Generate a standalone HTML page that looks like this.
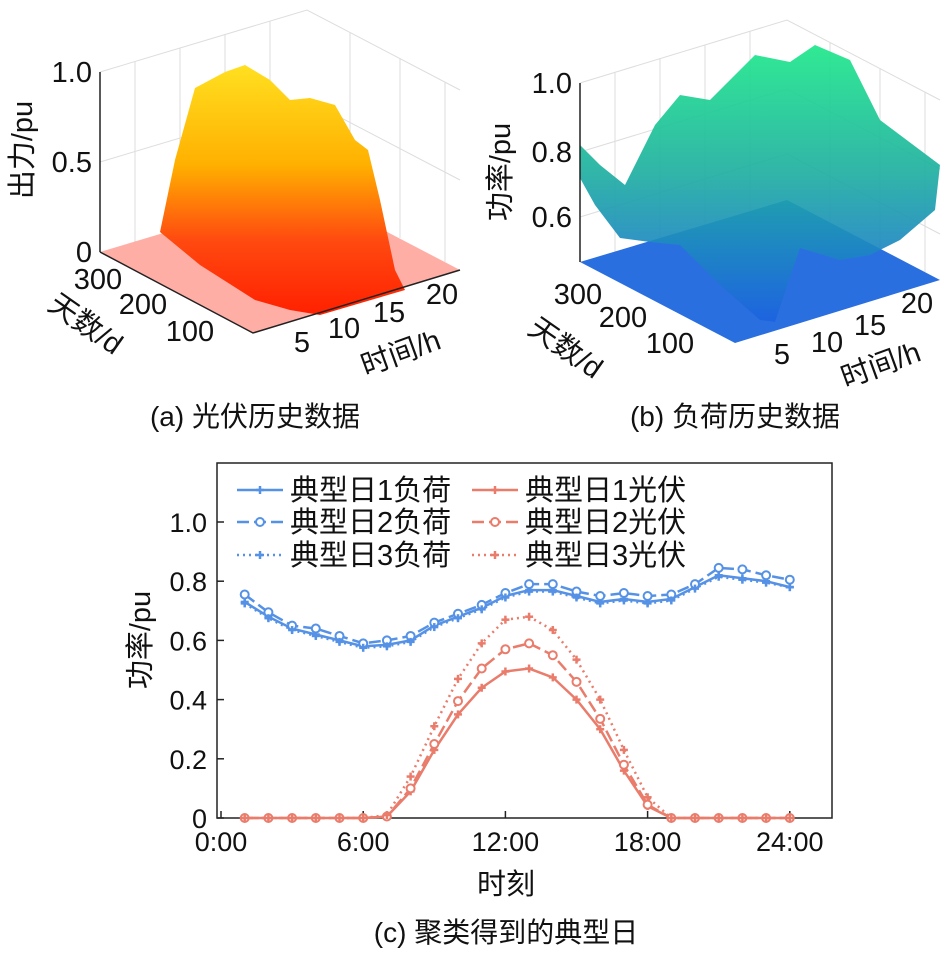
<!DOCTYPE html>
<html><head><meta charset="utf-8"><style>
body{margin:0;background:#fff;width:949px;height:957px;overflow:hidden}
svg text{font-family:"Liberation Sans","Noto Sans CJK SC",sans-serif;fill:#111}
</style></head><body>
<svg id="fig" width="949" height="957">
<defs>
<linearGradient id="gpv" x1="0" y1="0" x2="0" y2="1"><stop offset="0" stop-color="#ffe020"/><stop offset="0.4" stop-color="#ffb000"/><stop offset="0.7" stop-color="#ff4a10"/><stop offset="1" stop-color="#ff2000"/></linearGradient>
<linearGradient id="gld" x1="0" y1="0" x2="0" y2="1"><stop offset="0" stop-color="#1ee88a"/><stop offset="0.45" stop-color="#1fb0a0"/><stop offset="1" stop-color="#1c62e0"/></linearGradient>
</defs>
<g>
<g stroke="#ddd" fill="none">
<polyline points="100,72 307,10 460,90"/><polyline points="100,162 307,100 460,180"/>
<line x1="135" y1="62" x2="135" y2="242"/><line x1="180" y1="48" x2="180" y2="228"/><line x1="225" y1="35" x2="225" y2="215"/><line x1="270" y1="21" x2="270" y2="201"/>
<line x1="350" y1="33" x2="350" y2="213"/><line x1="400" y1="58" x2="400" y2="238"/><line x1="445" y1="82" x2="445" y2="262"/>
</g>
<polygon points="100,252 307,190 460,270 253,333" fill="#ff9a90" opacity="0.8"/>
<polygon points="160,232 175,160 195,88 225,72 245,65 270,80 290,100 310,98 335,105 355,140 368,150 380,200 395,270 405,290 320,315 290,310 255,300 200,265" fill="url(#gpv)"/>
<line x1="100" y1="72" x2="100" y2="252" stroke="#222" stroke-width="1.5"/>
<polyline points="100,252 253,333 460,270" fill="none" stroke="#222" stroke-width="1.5"/>
<g font-size="29" text-anchor="end"><text x="92" y="82">1.0</text><text x="92" y="172">0.5</text><text x="92" y="262">0</text></g>
<text transform="translate(32,150) rotate(-90)" font-size="29" text-anchor="middle">出力/pu</text>
<g font-size="29" text-anchor="middle"><text x="98" y="289">300</text><text x="143" y="314">200</text><text x="190" y="341">100</text>
<text x="302" y="352">5</text><text x="344" y="338">10</text><text x="389" y="322">15</text><text x="442" y="304">20</text></g>
<text transform="translate(80,332) rotate(35)" font-size="29" text-anchor="middle">天数/d</text>
<text transform="translate(404,362) rotate(-20)" font-size="29" text-anchor="middle">时间/h</text>
<text x="255" y="426" font-size="28" text-anchor="middle">(a) 光伏历史数据</text>
</g>
<g>
<g stroke="#ddd" fill="none">
<polyline points="580,83 787,20 940,100"/><polyline points="580,152 787,89 940,169"/><polyline points="580,217 787,154 940,234"/>
<line x1="615" y1="72" x2="615" y2="252"/><line x1="660" y1="58" x2="660" y2="238"/><line x1="705" y1="45" x2="705" y2="225"/><line x1="750" y1="31" x2="750" y2="211"/>
<line x1="830" y1="43" x2="830" y2="223"/><line x1="880" y1="68" x2="880" y2="248"/><line x1="925" y1="92" x2="925" y2="272"/>
</g>
<polygon points="580,262 787,200 940,280 735,343" fill="#2a6fe0"/>
<polygon points="580,145 600,165 625,185 655,125 680,95 710,100 735,75 755,55 790,62 815,45 850,60 870,100 880,120 940,165 935,210 900,240 870,255 840,260 800,248 775,322 760,320 720,285 680,245 650,242 620,238 595,205 580,178" fill="url(#gld)" opacity="0.92"/>
<line x1="580" y1="83" x2="580" y2="262" stroke="#222" stroke-width="1.5"/>
<g font-size="29" text-anchor="end"><text x="572" y="93">1.0</text><text x="572" y="162">0.8</text><text x="572" y="227">0.6</text></g>
<text transform="translate(510,172) rotate(-90)" font-size="29" text-anchor="middle">功率/pu</text>
<g font-size="29" text-anchor="middle"><text x="578" y="304">300</text><text x="623" y="327">200</text><text x="670" y="353">100</text>
<text x="782" y="364">5</text><text x="827" y="352">10</text><text x="870" y="335">15</text><text x="917" y="313">20</text></g>
<text transform="translate(560,356) rotate(35)" font-size="29" text-anchor="middle">天数/d</text>
<text transform="translate(884,374) rotate(-20)" font-size="29" text-anchor="middle">时间/h</text>
<text x="735" y="426" font-size="28" text-anchor="middle">(b) 负荷历史数据</text>
</g>
<g id="chartc"></g>
</svg>
<script>
const hours=[1,2,3,4,5,6,7,8,9,10,11,12,13,14,15,16,17,18,19,20,21,22,23,24];
const load1=[0.73,0.68,0.64,0.62,0.60,0.58,0.585,0.60,0.65,0.68,0.71,0.75,0.77,0.77,0.75,0.73,0.74,0.73,0.74,0.78,0.82,0.81,0.80,0.78];
const load2=[0.755,0.695,0.65,0.64,0.615,0.59,0.60,0.615,0.66,0.69,0.72,0.76,0.79,0.79,0.765,0.75,0.76,0.75,0.755,0.79,0.845,0.84,0.82,0.805];
const load3=[0.725,0.675,0.635,0.615,0.595,0.575,0.58,0.595,0.645,0.675,0.705,0.745,0.765,0.765,0.745,0.725,0.735,0.725,0.735,0.775,0.815,0.805,0.795,0.78];
const pv1=[0,0,0,0,0,0,0.005,0.09,0.23,0.35,0.44,0.495,0.505,0.475,0.40,0.30,0.16,0.04,0,0,0,0,0,0];
const pv2=[0,0,0,0,0,0,0.005,0.10,0.25,0.395,0.505,0.57,0.59,0.55,0.46,0.335,0.18,0.045,0,0,0,0,0,0];
const pv3=[0,0,0,0,0,0,0.01,0.14,0.31,0.47,0.59,0.67,0.68,0.635,0.535,0.40,0.23,0.07,0,0,0,0,0,0];
const xTicks=[0,6,12,18,24];
const xTickLabels=["0:00","6:00","12:00","18:00","24:00"];
const yTicks=[0,0.2,0.4,0.6,0.8,1.0];
const yTickLabels=["0","0.2","0.4","0.6","0.8","1.0"];
const NS="http://www.w3.org/2000/svg";
const g=document.getElementById('chartc');
const L=217,R=832,T=463,B=818;
function x(h){return 221+h*23.7;}
function y(v){return 818-v*296;}
function mk(t,a,p){const e=document.createElementNS(NS,t);for(const k in a)e.setAttribute(k,a[k]);(p||g).appendChild(e);return e;}
const box=mk('rect',{x:L,y:T,width:R-L,height:B-T,fill:'none',stroke:'#222','stroke-width':1.5});


xTicks.forEach((h,i)=>{
 mk('line',{x1:x(h),x2:x(h),y1:B,y2:B-7,stroke:'#222','stroke-width':1.5});
 const t=mk('text',{x:x(h),y:B+33,'font-size':27,'text-anchor':'middle'});t.textContent=xTickLabels[i];
 
 
});
yTicks.forEach((v,i)=>{
 mk('line',{x1:L,x2:L+7,y1:y(v),y2:y(v),stroke:'#222','stroke-width':1.5});
 const t=mk('text',{x:207,y:y(v)+10,'font-size':27,'text-anchor':'end'});t.textContent=yTickLabels[i];
 
 
});
const yl=mk('text',{transform:'translate(150,640) rotate(-90)','font-size':29,'text-anchor':'middle'});yl.textContent='功率/pu';


const xl=mk('text',{x:506,y:894,'font-size':29,'text-anchor':'middle'});xl.textContent='时刻';


const cap=mk('text',{x:506,y:942,'font-size':28,'text-anchor':'middle'});cap.textContent='(c) 聚类得到的典型日';


const BL='#5592e6',RD='#ea7c6c';
function marker(par,cx,cy,type,col){
 if(type==='o') mk('circle',{cx:cx,cy:cy,r:4,fill:'#fff',stroke:col,'stroke-width':2},par);
 else {mk('line',{x1:cx-4,x2:cx+4,y1:cy,y2:cy,stroke:col,'stroke-width':2.5},par);mk('line',{x1:cx,x2:cx,y1:cy-4,y2:cy+4,stroke:col,'stroke-width':2.5},par);}
}
const series=[[load1,BL,'','+','load-day1'],[load2,BL,'12 5','o','load-day2'],[load3,BL,'2 4','+','load-day3'],[pv1,RD,'','+','pv-day1'],[pv2,RD,'12 5','o','pv-day2'],[pv3,RD,'2 4','+','pv-day3']];
series.forEach(s=>{
 const sg=mk('g',{});
 
 
 mk('polyline',{points:hours.map((h,i)=>x(h)+','+y(s[0][i])).join(' '),fill:'none',stroke:s[1],'stroke-width':2.5,'stroke-dasharray':s[2]},sg);
 hours.forEach((h,i)=>marker(sg,x(h),y(s[0][i]),s[3],s[1]));
});
const leg=[['典型日1负荷',BL,'','+',237,490],['典型日2负荷',BL,'12 5','o',237,522],['典型日3负荷',BL,'2 4','+',237,555],['典型日1光伏',RD,'','+',472,490],['典型日2光伏',RD,'12 5','o',472,522],['典型日3光伏',RD,'2 4','+',472,555]];
leg.forEach(l=>{
 const lg=mk('g',{});
 
 
 mk('line',{x1:l[4],x2:l[4]+46,y1:l[5],y2:l[5],stroke:l[1],'stroke-width':2.5,'stroke-dasharray':l[2]},lg);
 marker(lg,l[4]+23,l[5],l[3],l[1]);
 const t=mk('text',{x:l[4]+53,y:l[5]+10,'font-size':29},lg);t.textContent=l[0];
});
</script>
</body></html>
